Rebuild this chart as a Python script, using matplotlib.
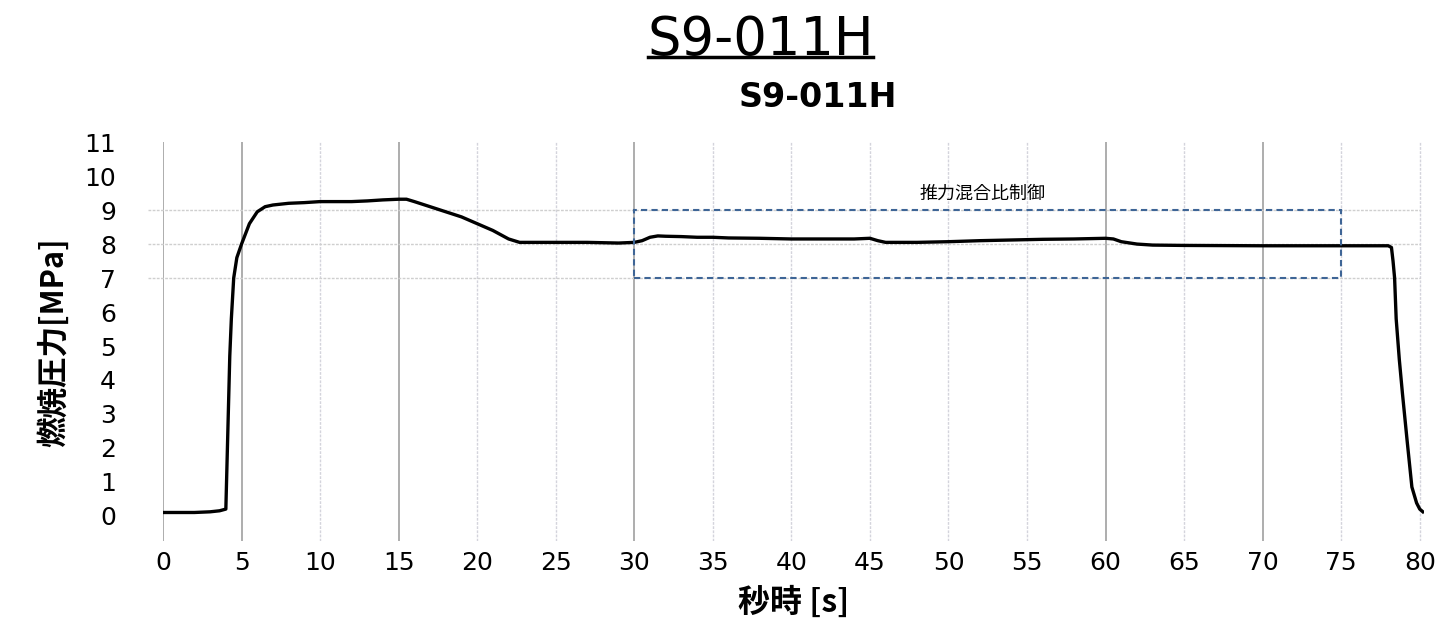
import matplotlib
matplotlib.use('Agg')
import matplotlib.pyplot as plt
from matplotlib.patches import Rectangle
from matplotlib.lines import Line2D

plt.rcParams['font.family'] = ['DejaVu Sans']
cjk = ['Noto Sans CJK JP', 'DejaVu Sans']

# 燃焼圧力の時間履歴 (読み取り値)
time_s = [0, 1, 2, 3, 3.6, 4.0, 4.1, 4.25, 4.35, 4.5, 4.7, 5.0, 5.5, 6.0, 6.5, 7.0,
          8, 9, 10, 11, 12, 13, 14, 15, 15.5, 16, 17, 18, 19, 20, 21, 22, 22.7, 23,
          25, 27, 29, 30, 30.5, 31, 31.5, 32, 33, 34, 35, 36, 38, 40, 42, 44, 45,
          45.5, 46, 47, 48, 50, 52, 54, 56, 58, 60, 60.5, 61, 62, 63, 65, 70, 75,
          77, 78, 78.2, 78.3, 78.4, 78.5, 78.7, 78.9, 79.2, 79.5, 79.8, 80.0, 80.2]
pressure = [0.1, 0.1, 0.1, 0.12, 0.15, 0.2, 2.0, 4.7, 5.8, 7.0, 7.6, 8.0, 8.6, 8.95, 9.1, 9.15,
            9.2, 9.22, 9.25, 9.25, 9.25, 9.27, 9.3, 9.32, 9.32, 9.25, 9.1, 8.95, 8.8, 8.6, 8.4, 8.15, 8.05, 8.05,
            8.05, 8.05, 8.03, 8.05, 8.1, 8.2, 8.24, 8.23, 8.22, 8.2, 8.2, 8.18, 8.17, 8.15, 8.15, 8.15, 8.17,
            8.1, 8.05, 8.05, 8.05, 8.07, 8.1, 8.12, 8.14, 8.15, 8.17, 8.15, 8.07, 8.0, 7.97, 7.96, 7.95, 7.95,
            7.95, 7.95, 7.9, 7.5, 7.0, 5.8, 4.6, 3.6, 2.2, 0.85, 0.38, 0.2, 0.12]

x_ticks = list(range(0, 85, 5))
y_ticks = list(range(0, 12))
dark_x = [0, 5, 15, 30, 60, 70]
h_grid = [7, 8, 9]

# 推力混合比制御の区間
ctrl_x = (30, 75)
ctrl_y = (7, 9)
ctrl_label = '推力混合比制御'

fig = plt.figure(figsize=(14.4, 6.18), dpi=100)
ax = fig.add_axes([0.1132, 0.124, 0.876, 0.646])
ax.set_xlim(0, 80.3)
ax.set_ylim(-0.75, 11)

for xv in x_ticks:
    if xv in dark_x:
        ax.axvline(xv, color='#a0a0a0', lw=1.2, zorder=1)
    else:
        ax.axvline(xv, color='#d4d4dc', lw=1.0, ls=(0, (2, 1)), zorder=1)
for yv in h_grid:
    ax.plot([-0.95, 80], [yv, yv], color='#cfcfcf', lw=1.0, ls=(0, (2, 1)),
            zorder=1, clip_on=False)

ax.plot(time_s, pressure, color='black', lw=2.4, zorder=3)

ax.add_patch(Rectangle((ctrl_x[0], ctrl_y[0]), ctrl_x[1] - ctrl_x[0], ctrl_y[1] - ctrl_y[0],
                       fill=False, ec='#3e6596', lw=1.5, ls=(0, (3, 2)), zorder=4))
ax.text(52.2, 9.47, ctrl_label, family=cjk, fontsize=13, ha='center', va='center')

for s in ax.spines.values():
    s.set_visible(False)
ax.set_xticks(x_ticks)
ax.set_yticks(y_ticks)
ax.tick_params(length=0, labelsize=18)
ax.tick_params(axis='y', pad=34)
ax.tick_params(axis='x', pad=7)

ax.set_xlabel('秒時 [s]', family=cjk, fontsize=23, fontweight='bold', labelpad=8)
ax.set_ylabel('燃焼圧力[MPa]', family=cjk, fontsize=22, fontweight='bold', labelpad=10)

fig.text(0.528, 0.935, 'S9-011H', fontsize=38, ha='center', va='center')
fig.add_artist(Line2D([0.450, 0.606], [0.907, 0.907], color='black', lw=2.5))
fig.text(0.568, 0.843, 'S9-011H', fontsize=24, fontweight='bold', ha='center', va='center')

fig.savefig('out.png', dpi=100)
